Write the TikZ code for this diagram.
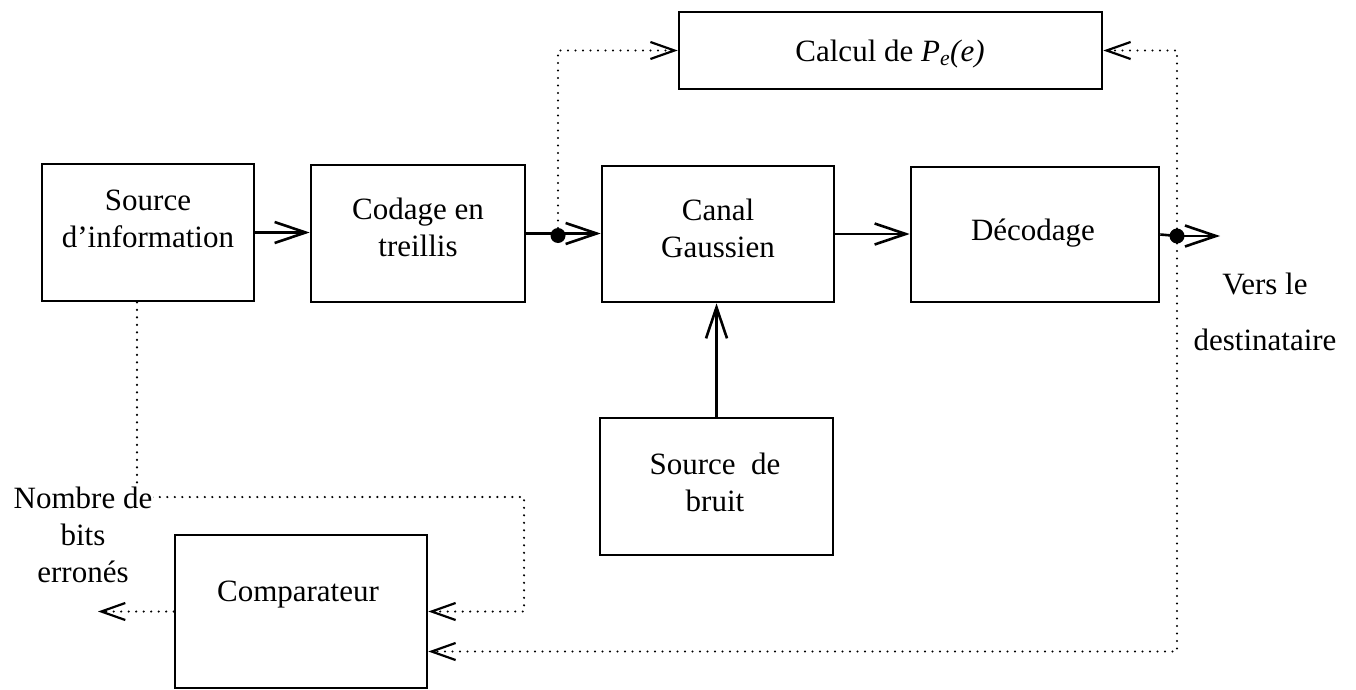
\documentclass[tikz,border=0pt]{standalone}
\usepackage{fontspec}
\setmainfont{Liberation Serif}
\usetikzlibrary{arrows.meta}
\begin{document}
\begin{tikzpicture}[x=1pt,y=-1pt,
  box/.style={draw,line width=2.6pt,inner sep=0pt},
  txt/.style={align=center,font=\fontsize{31}{37}\selectfont,inner sep=0pt},
  flow/.style={line width=2.6pt,-{Straight Barb[length=31pt,width=21pt,line width=2.6pt]}},
  wire/.style={line width=2.6pt},
  dots/.style={line width=2.4pt,line cap=round,dash pattern=on 0pt off 7.5pt},
  dotflow/.style={dots,-{Straight Barb[length=24pt,width=17pt,line width=2.2pt]}},
  junction/.style={circle,fill,inner sep=0pt,minimum size=15pt},
]
\useasboundingbox (0,0) rectangle (1356,690);

% blocks
\node[box,minimum width=212pt,minimum height=137pt] (src) at (148,232.5) {};
\node[box,minimum width=214pt,minimum height=137pt] (cod) at (418,233.5) {};
\node[box,minimum width=232pt,minimum height=136pt] (can) at (718,234) {};
\node[box,minimum width=248pt,minimum height=135pt] (dec) at (1035,234.5) {};
\node[box,minimum width=423pt,minimum height=77pt]  (cal) at (890.5,50.5) {};
\node[box,minimum width=233pt,minimum height=137pt] (noi) at (716.5,486.5) {};
\node[box,minimum width=252pt,minimum height=153pt] (cmp) at (301,611.5) {};

% block captions
\node[txt] (src-t) at (148,219) {Source\\d’information};
\node[txt] (cod-t) at (418,227) {Codage en\\treillis};
\node[txt] (can-t) at (718,228) {Canal\\Gaussien};
\node[txt] (dec-t) at (1033,233) {Décodage};
\node[txt] (cal-t) at (890,54) {Calcul de \textit{P}\textsubscript{\textit{e}}\textit{(e)}};
\node[txt] (noi-t) at (715,482) {Source\hspace{0.5em}de\\bruit};
\node[txt] (cmp-t) at (298,595) {Comparateur};

% junction points and free ends
\node[junction] (j1) at (558,235.5) {};
\node[junction] (j2) at (1177,236) {};
\coordinate (out) at (1220,236);
\coordinate (bend) at (524,497);
\coordinate (res) at (98,613);

% main chain
\draw[flow] (src.east) -- (src.east -| cod.west);
\draw[flow] (cod.east) -- (cod.east -| can.west);
\draw[flow] (can.east) -- (can.east -| dec.west);
\draw[wire] (dec.east) -- (j2.center);
\draw[flow] (j2.center) -- (out);
\draw[flow] (noi.north) -- (noi.north |- can.south);

% monitoring paths
\draw[dotflow] (j1.center) |- (cal.west);
\draw[dotflow] (j2.center) |- (cal.east);
\draw[dotflow] ([xshift=-11pt]src.south) |- (bend) |- (cmp.east);
\draw[dotflow] (j2.center) |- ([yshift=-40pt]cmp.east);
\draw[dotflow] (cmp.west) -- (cmp.west -| res);

% side labels
\node[txt,fill=white,inner sep=1pt] (nb) at (83,535) {Nombre de\\bits\\erronés};
\node[txt] (vers) at (1265,312) {Vers le\\[19pt]destinataire};
\end{tikzpicture}
\end{document}
